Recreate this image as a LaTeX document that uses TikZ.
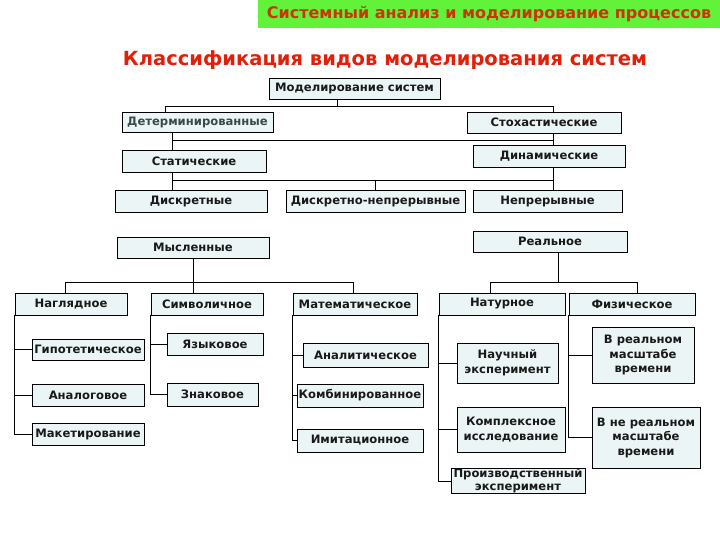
\documentclass[tikz,border=0pt]{standalone}
\usepackage{fontspec}
\setmainfont{DejaVu Sans}
\usetikzlibrary{calc}

\definecolor{bannergreen}{RGB}{98,242,58}
\definecolor{bannertext}{RGB}{200,55,0}
\definecolor{titlered}{RGB}{226,32,10}
\definecolor{boxfill}{RGB}{236,245,245}
\definecolor{graytext}{RGB}{60,72,72}

\begin{document}
\begin{tikzpicture}[
        x=1pt, y=-1pt,
        box/.style={
            rectangle,
            draw,
            line width=0.8pt,
            fill=boxfill,
            align=center,
            inner sep=0pt,
            font=\fontsize{11.6}{14.5}\selectfont\bfseries,
            text=black!90
        },
        link/.style={line width=0.8pt}
    ]
        \useasboundingbox[fill=white] (0,0) rectangle (720,540);

        % Header
        \node[fill=bannergreen, minimum width=462pt, minimum height=28pt, inner sep=0pt,
              font=\fontsize{16}{18}\selectfont\bfseries, text=bannertext] (head) at (489,14)
              {Системный анализ и моделирование процессов};
        \node[font=\fontsize{19.5}{22}\selectfont\bfseries, text=titlered] (title) at (385,60)
              {Классификация видов моделирования систем};

        % Upper levels
        \node[box, minimum width=171pt, minimum height=21pt] (root) at (354.5,88.5) {Моделирование систем};
        \node[box, minimum width=151pt, minimum height=20pt, text=graytext] (det) at (197.5,122) {Детерминированные};
        \node[box, minimum width=154pt, minimum height=21pt] (sto) at (544,122.5) {Стохастические};
        \node[box, minimum width=144pt, minimum height=22pt] (stat) at (194,161) {Статические};
        \node[box, minimum width=152pt, minimum height=22pt] (dyn) at (549,156) {Динамические};
        \node[box, minimum width=152pt, minimum height=22pt] (disc) at (191,201) {Дискретные};
        \node[box, minimum width=179pt, minimum height=22pt] (dcont) at (375.5,201) {Дискретно-непрерывные};
        \node[box, minimum width=149pt, minimum height=22pt] (cont) at (547.5,201) {Непрерывные};
        \node[box, minimum width=152pt, minimum height=21pt] (ment) at (193,247.5) {Мысленные};
        \node[box, minimum width=154pt, minimum height=21pt] (real) at (550,241.5) {Реальное};

        % Mental branch
        \node[box, minimum width=112pt, minimum height=22pt] (vis) at (71,304) {Наглядное};
        \node[box, minimum width=112pt, minimum height=22pt] (sym) at (207,304) {Символичное};
        \node[box, minimum width=124pt, minimum height=22pt] (math) at (355,304) {Математическое};
        \node[box, minimum width=112pt, minimum height=21pt] (hyp) at (88,349.5) {Гипотетическое};
        \node[box, minimum width=112pt, minimum height=22pt] (anlg) at (88,395) {Аналоговое};
        \node[box, minimum width=112pt, minimum height=22pt] (mak) at (88,434) {Макетирование};
        \node[box, minimum width=96pt, minimum height=22pt] (lang) at (215,344) {Языковое};
        \node[box, minimum width=91pt, minimum height=23pt] (sign) at (212.5,394.5) {Знаковое};
        \node[box, minimum width=125pt, minimum height=24pt] (analyt) at (365.5,355) {Аналитическое};
        \node[box, minimum width=126pt, minimum height=23pt] (comb) at (360,395.5) {Комбинированное};
        \node[box, minimum width=126pt, minimum height=23pt] (imit) at (360,440.5) {Имитационное};

        % Real branch
        \node[box, minimum width=126pt, minimum height=22pt] (nat) at (502,304) {Натурное};
        \node[box, minimum width=126pt, minimum height=22pt] (phys) at (632,304) {Физическое};
        \node[box, minimum width=101pt, minimum height=40pt] (sci) at (507.5,363) {Научный\\эксперимент};
        \node[box, minimum width=108pt, minimum height=45pt] (cplx) at (511,429.5) {Комплексное\\исследование};
        \node[box, minimum width=134pt, minimum height=24pt,
              font=\fontsize{11.6}{13}\selectfont\bfseries] (prod) at (518,481) {Производственный\\эксперимент};
        \node[box, minimum width=102pt, minimum height=56pt] (rt) at (643,355) {В реальном\\масштабе\\времени};
        \node[box, minimum width=108pt, minimum height=61pt] (nrt) at (646,437.5) {В не реальном\\масштабе\\времени};

        % Bus junctions
        \coordinate (j1) at (337,106);
        \coordinate (j1l) at (165,106);
        \coordinate (j1r) at (553,106);
        \coordinate (j2l) at (172,140);
        \coordinate (j2r) at (553,140);
        \coordinate (j3l) at (172,180);
        \coordinate (j3r) at (553,180);
        \coordinate (j4l) at (65,282);
        \coordinate (j4r) at (353,282);
        \coordinate (j5) at (558,282);
        \coordinate (j5l) at (490,282);
        \coordinate (j5r) at (637,282);

        % Upper connectors
        \draw[link] (root.south -| j1) -- (j1);
        \draw[link] (j1l |- det.north) -- (j1l) -- (j1r) -- (j1r |- sto.north);
        \draw[link] (j2l |- det.south) -- (j2l |- stat.north);
        \draw[link] (j2r |- sto.south) -- (j2r |- dyn.north);
        \draw[link] (j2l) -- (j2r);
        \draw[link] (j3l |- stat.south) -- (j3l |- disc.north);
        \draw[link] (j3r |- dyn.south) -- (j3r |- cont.north);
        \draw[link] (j3l) -- (j3r);
        \draw[link] (dcont.north) -- (dcont.north |- j3l);

        % Mental connectors
        \draw[link] (ment.south) -- (ment.south |- sym.north);
        \draw[link] (j4l |- vis.north) -- (j4l) -- (j4r) -- (j4r |- math.north);
        \draw[link] (vis.south west) |- (mak.west);
        \draw[link] (vis.south west |- hyp.west) -- (hyp.west);
        \draw[link] (vis.south west |- anlg.west) -- (anlg.west);
        \draw[link] (sym.south west) |- (sign.west);
        \draw[link] (sym.south west |- lang.west) -- (lang.west);
        \draw[link] (math.south west) |- (imit.west);
        \draw[link] (math.south west |- analyt.west) -- (analyt.west);
        \draw[link] (math.south west |- comb.west) -- (comb.west);

        % Real connectors
        \draw[link] (real.south -| j5) -- (j5);
        \draw[link] (j5l |- nat.north) -- (j5l) -- (j5r) -- (j5r |- phys.north);
        \draw[link] (nat.south west) |- (prod.west);
        \draw[link] (nat.south west |- sci.west) -- (sci.west);
        \draw[link] (nat.south west |- cplx.west) -- (cplx.west);
        \draw[link] (phys.south west) |- (nrt.west);
        \draw[link] (phys.south west |- rt.west) -- (rt.west);

    \end{tikzpicture}
\end{document}
